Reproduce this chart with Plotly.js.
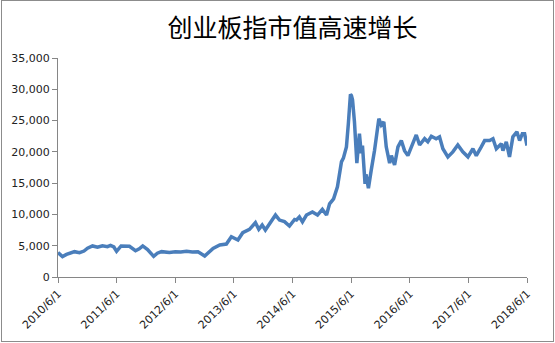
<!DOCTYPE html>
<html>
<head>
<meta charset="utf-8">
<script src="https://cdn.plot.ly/plotly-3.0.1.min.js"></script>
<style>
  html, body { margin: 0; padding: 0; background: #fff; }
  #wrap { position: relative; width: 555px; height: 343px; }
  #chart { position: absolute; left: 0; top: 0; width: 555px; height: 343px; }
  #frame { position: absolute; left: 1px; top: 0; width: 553px; height: 342px;
           border: 1px solid #8c8c8c; box-sizing: border-box; pointer-events: none; }
</style>
</head>
<body>
<div id="wrap"><div id="chart"></div><div id="frame"></div></div>
<script>
// Dates and market-cap values
const dates = [
  "2010-06-01","2010-06-29","2010-07-24","2010-08-20","2010-09-12","2010-10-13","2010-11-10","2010-12-02",
  "2011-01-02","2011-02-02","2011-03-05","2011-04-05","2011-04-24","2011-05-15","2011-06-01","2011-06-29",
  "2011-07-25","2011-08-20","2011-09-27","2011-10-20","2011-11-11","2011-12-11","2012-01-18","2012-02-10",
  "2012-03-07","2012-04-05","2012-04-25","2012-06-01","2012-07-05","2012-08-10","2012-09-15","2012-10-20",
  "2012-12-01","2013-01-22","2013-03-05","2013-04-15","2013-05-16","2013-06-26","2013-07-26","2013-09-06",
  "2013-10-13","2013-11-03","2013-11-24","2013-12-14","2014-01-09","2014-02-15","2014-03-12","2014-04-12",
  "2014-05-13","2014-06-14","2014-06-26","2014-07-14","2014-08-02","2014-08-27","2014-10-03","2014-11-04",
  "2014-12-04","2014-12-30","2015-01-18","2015-02-12","2015-03-08","2015-04-02","2015-04-14","2015-05-03",
  "2015-05-15","2015-05-28","2015-06-03","2015-06-10","2015-06-22","2015-07-07","2015-07-23","2015-08-03",
  "2015-08-11","2015-08-27","2015-09-02","2015-09-17","2015-10-04","2015-10-25","2015-11-21","2015-12-06",
  "2015-12-22","2016-01-06","2016-01-27","2016-02-07","2016-02-27","2016-03-19","2016-04-09","2016-04-29",
  "2016-05-20","2016-06-10","2016-07-11","2016-08-01","2016-09-01","2016-09-21","2016-10-13","2016-11-12",
  "2016-12-03","2016-12-24","2017-01-24","2017-02-24","2017-03-27","2017-04-27","2017-05-29","2017-06-29",
  "2017-07-20","2017-08-20","2017-09-10","2017-10-11","2017-11-01","2017-11-22","2017-12-23","2018-01-02",
  "2018-01-23","2018-02-12","2018-03-05","2018-03-30","2018-04-16","2018-05-03","2018-05-17","2018-06-01"
];
const marketCap = [
  3900, 3250, 3600, 3850, 4050, 3900, 4150, 4600,
  4960, 4750, 5000, 4850, 5050, 4800, 4100, 4960,
  4900, 4900, 4200, 4500, 4960, 4400, 3300, 3800,
  4050, 3950, 3900, 4050, 4000, 4100, 4000, 4050,
  3350, 4580, 5110, 5270, 6440, 5900, 7080, 7620,
  8680, 7620, 8300, 7500, 8580, 9900, 9100, 8850,
  8150, 9200, 9100, 9600, 8800, 9900, 10400, 9900,
  10800, 9900, 11700, 12500, 14400, 18400, 19000, 20800,
  24500, 29200, 29000, 28300, 24800, 18200, 22900, 19800,
  21000, 14900, 16400, 14200, 17000, 20200, 25300, 24300,
  24800, 20800, 18200, 19400, 17900, 20800, 21800, 20200,
  19400, 20800, 22700, 21100, 22100, 21600, 22500, 22100,
  22400, 20500, 19200, 20000, 21100, 20000, 19200, 20500,
  19400, 20800, 21800, 21800, 22100, 20500, 21300, 20200,
  21600, 19200, 22400, 23200, 21800, 22900, 22900, 21000
];
const tickDates = ["2010-06-01","2011-06-01","2012-06-01","2013-06-01","2014-06-01","2015-06-01","2016-06-01","2017-06-01","2018-06-01"];
const tickLabels = ["2010/6/1","2011/6/1","2012/6/1","2013/6/1","2014/6/1","2015/6/1","2016/6/1","2017/6/1","2018/6/1"];
const chartTitle = "创业板指市值高速增长";

const trace = {
  x: dates, y: marketCap, type: "scatter", mode: "lines",
  line: { color: "#4a7ebb", width: 3.5 },
  hoverinfo: "skip"
};

const layout = {
  width: 555, height: 343,
  margin: { l: 58, r: 28, t: 58, b: 66 },
  paper_bgcolor: "rgba(0,0,0,0)", plot_bgcolor: "#fff",
  showlegend: false,
  title: {
    text: chartTitle, x: 0.5, xref: "paper", xanchor: "center",
    y: 0.917, yref: "container", yanchor: "middle",
    font: { family: "Noto Sans CJK SC", size: 25, color: "#000" }
  },
  xaxis: {
    type: "date", range: ["2010-06-01", "2018-06-01"],
    tickmode: "array", tickvals: tickDates, ticktext: tickLabels,
    tickangle: -45, ticks: "outside", ticklen: 5, tickcolor: "#868686", tickwidth: 1,
    showline: true, linecolor: "#868686", linewidth: 1,
    showgrid: false, zeroline: false,
    tickfont: { family: "DejaVu Sans", size: 11, color: "#222" }
  },
  yaxis: {
    range: [0, 35000], dtick: 5000, tick0: 0, tickformat: ",",
    ticks: "outside", ticklen: 5, tickcolor: "#868686", tickwidth: 1,
    showline: true, linecolor: "#868686", linewidth: 1,
    showgrid: false, zeroline: false,
    tickfont: { family: "DejaVu Sans", size: 11, color: "#222" }
  }
};

Plotly.newPlot("chart", [trace], layout, { staticPlot: true, displayModeBar: false });
</script>
</body>
</html>
